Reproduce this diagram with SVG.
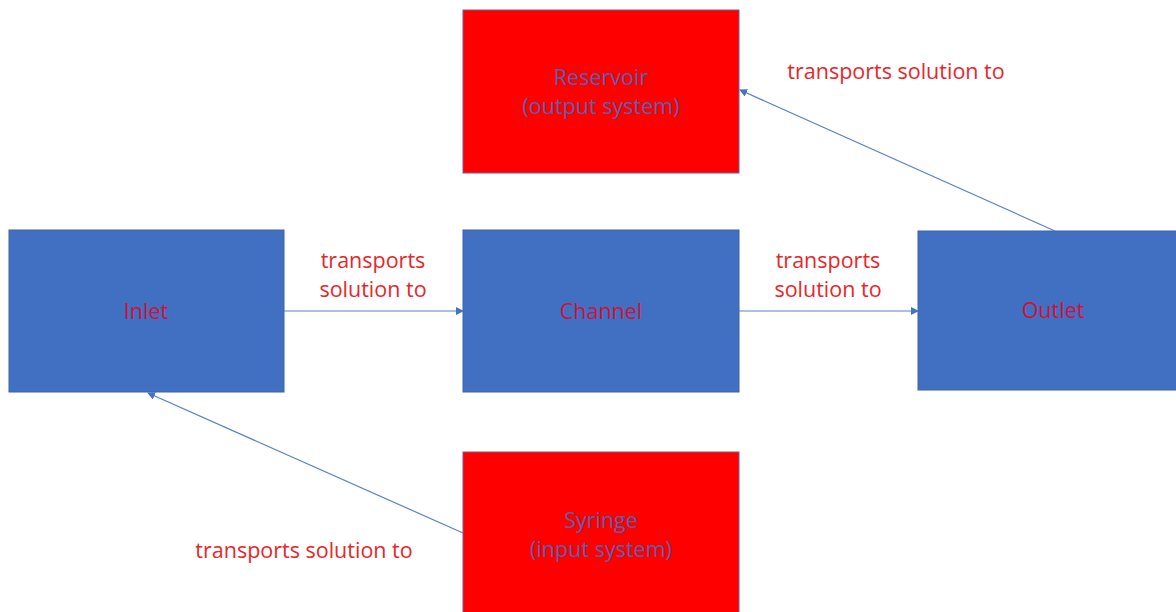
<svg xmlns="http://www.w3.org/2000/svg" width="1176" height="612" viewBox="0 0 1176 612">
<defs>
<marker id="ah" markerWidth="8" markerHeight="8" refX="7" refY="4" orient="auto" markerUnits="userSpaceOnUse">
<path d="M0,0 L8,4 L0,8 Z" fill="#4472C4"/>
</marker>
</defs>
<style>
.blue{fill:#4170C2;stroke:#3A62A8;stroke-width:1}
.red{fill:#FF0000;stroke:#7A5A8A;stroke-width:1}
.nt{font-family:"Open Sans","Liberation Sans",sans-serif;font-size:21.5px;text-anchor:middle}
.bt{fill:#D0103A}
.rt{fill:#5A5FB0}
.lbl{font-family:"Open Sans","Liberation Sans",sans-serif;font-size:21.5px;fill:#E8262A;text-anchor:middle}
.con{stroke:#5A82C4;stroke-width:1.2;fill:none;marker-end:url(#ah)}
</style>
<rect width="1176" height="612" fill="#FFFFFF"/>
<g id="reservoir">
<rect class="red" x="463" y="10" width="276" height="163"/>
<text class="nt rt" x="601" y="85">Reservoir</text>
<text class="nt rt" x="601" y="114">(output system)</text>
</g>
<g id="inlet">
<rect class="blue" x="9" y="230" width="275" height="162"/>
<text class="nt bt" x="146" y="319">Inlet</text>
</g>
<g id="channel">
<rect class="blue" x="463" y="230" width="276" height="162"/>
<text class="nt bt" x="601" y="319">Channel</text>
</g>
<g id="outlet">
<rect class="blue" x="918" y="231" width="262" height="159"/>
<text class="nt bt" x="1053" y="318">Outlet</text>
</g>
<g id="syringe">
<rect class="red" x="463" y="452" width="276" height="165"/>
<text class="nt rt" x="601" y="528">Syringe</text>
<text class="nt rt" x="601" y="557">(input system)</text>
</g>
<g id="connectors">
<line class="con" x1="284" y1="311" x2="463" y2="311"/>
<line class="con" x1="739" y1="311" x2="918" y2="311"/>
<line class="con" x1="1055" y1="231" x2="740" y2="90"/>
<line class="con" x1="463" y1="533" x2="148" y2="393"/>
</g>
<g id="labels">
<text class="lbl" x="373" y="268">transports</text>
<text class="lbl" x="373" y="297">solution to</text>
<text class="lbl" x="828" y="268">transports</text>
<text class="lbl" x="828" y="297">solution to</text>
<text class="lbl" x="896" y="79">transports solution to</text>
<text class="lbl" x="304" y="558">transports solution to</text>
</g>
</svg>
